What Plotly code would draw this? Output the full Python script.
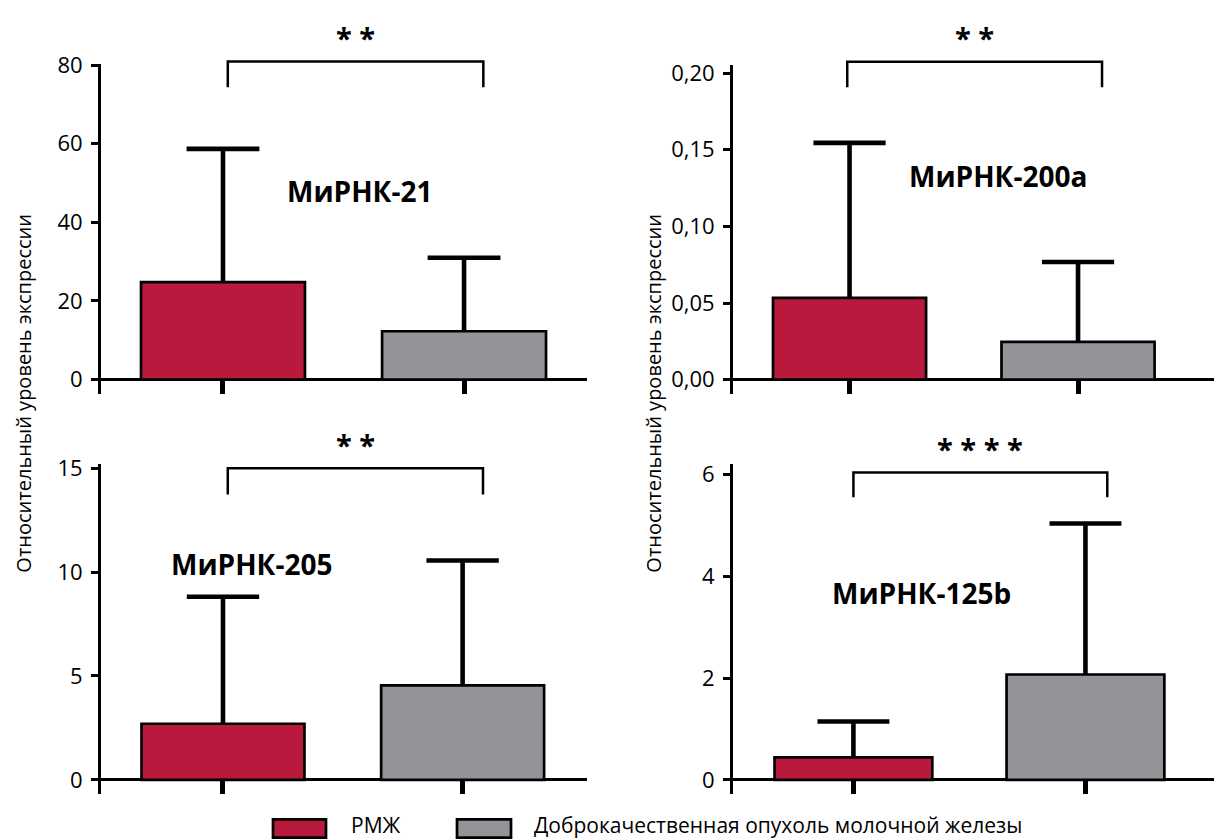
import plotly.graph_objects as go

# ---------------- data ----------------
groups = ["РМЖ", "Доброкачественная опухоль молочной железы"]
mirna_labels = ["МиРНК-21", "МиРНК-200a", "МиРНК-205", "МиРНК-125b"]
rmzh_mean = [24.8, 0.0533, 2.70, 0.44]
rmzh_err = [33.9, 0.1012, 6.11, 0.705]
benign_mean = [12.3, 0.0246, 4.55, 2.07]
benign_err = [18.7, 0.0522, 6.01, 2.965]
significance = ["**", "**", "**", "****"]
ytick_values = [[0, 20, 40, 60, 80], [0, 0.05, 0.10, 0.15, 0.20], [0, 5, 10, 15], [0, 2, 4, 6]]
ytick_labels = [["0", "20", "40", "60", "80"],
                ["0,00", "0,05", "0,10", "0,15", "0,20"],
                ["0", "5", "10", "15"],
                ["0", "2", "4", "6"]]
y_title = "Относительный уровень экспрессии"

# ---------------- layout / style ----------------
W, H = 1214, 839
RED = "#B8193D"
GREY = "#939498"
FONT = "Open Sans"

panels = [
    dict(xpx=(101, 587), ypx=(49.3, 385), xr=(-0.506, 1.510), yr=(-3.57, 80.2), bw=0.68, cap=0.151,
         br_x=(0.02, 1.08), br_y=(80.9, 74.4), lab=(0.568, 48.1)),
    dict(xpx=(733, 1214), ypx=(50, 385), xr=(-0.51, 1.595), yr=(-0.00915, 0.2053), bw=0.67, cap=0.158,
         br_x=(-0.01, 1.105), br_y=(0.2074, 0.1908), lab=(0.65, 0.133)),
    dict(xpx=(101, 587), ypx=(457, 793.3), xr=(-0.509, 1.519), yr=(-0.689, 15.19), bw=0.68, cap=0.151,
         br_x=(0.02, 1.085), br_y=(15.0, 13.73), lab=(0.117, 10.37)),
    dict(xpx=(733, 1214), ypx=(457, 793.3), xr=(-0.519, 1.554), yr=(-0.2817, 6.2), bw=0.68, cap=0.155,
         br_x=(0.0, 1.094), br_y=(6.04, 5.55), lab=(0.295, 3.68)),
]

fig = go.Figure()
layout = dict(width=W, height=H, margin=dict(l=0, r=0, t=0, b=0),
              paper_bgcolor="white", plot_bgcolor="white", showlegend=False,
              barmode="overlay", font=dict(family=FONT, color="black"))
annotations = []
shapes = []


def dom(v, r):
    return (v - r[0]) / (r[1] - r[0])


for i, p in enumerate(panels):
    sfx = "" if i == 0 else str(i + 1)
    xa, ya = "x" + sfx, "y" + sfx
    means = [rmzh_mean[i], benign_mean[i]]
    errs = [rmzh_err[i], benign_err[i]]
    colors = [RED, GREY]
    for g in range(2):
        fig.add_trace(go.Bar(x=[g], y=[means[g]], width=p["bw"], name=groups[g],
                             marker=dict(color=colors[g], line=dict(color="black", width=2.7)),
                             xaxis=xa, yaxis=ya, hoverinfo="skip"))
    # error bars (upper only)
    ex, ey = [], []
    for g in range(2):
        top = means[g] + errs[g]
        ex += [g, g, None, g - p["cap"], g + p["cap"], None]
        ey += [means[g], top, None, top, top, None]
    fig.add_trace(go.Scatter(x=ex, y=ey, mode="lines", line=dict(color="black", width=4.6),
                             xaxis=xa, yaxis=ya, hoverinfo="skip"))

    layout["xaxis" + sfx] = dict(domain=[p["xpx"][0] / W, p["xpx"][1] / W], range=list(p["xr"]),
                                 anchor=ya, showgrid=False, zeroline=False, showline=False,
                                 ticks="inside", tickvals=[0, 1], ticklen=14.3, tickwidth=4.5,
                                 tickcolor="black", showticklabels=False, fixedrange=True)
    layout["yaxis" + sfx] = dict(domain=[1 - p["ypx"][1] / H, 1 - p["ypx"][0] / H], range=list(p["yr"]),
                                 anchor=xa, showgrid=False, showline=True, linewidth=3, linecolor="black",
                                 ticks="outside", ticklen=7, tickwidth=2.7, tickcolor="black",
                                 tickvals=ytick_values[i], ticktext=ytick_labels[i],
                                 tickfont=dict(family=FONT, size=22, color="black"),
                                 ticklabelstandoff=4,
                                 zeroline=True, zerolinecolor="black", zerolinewidth=2.7,
                                 fixedrange=True)

    # significance bracket
    bx0, bx1 = dom(p["br_x"][0], p["xr"]), dom(p["br_x"][1], p["xr"])
    by0, by1 = dom(p["br_y"][0], p["yr"]), dom(p["br_y"][1], p["yr"])
    shapes.append(dict(type="path", xref=xa + " domain", yref=ya + " domain",
                       path=f"M {bx0},{by1} L {bx0},{by0} L {bx1},{by0} L {bx1},{by1}",
                       line=dict(color="black", width=2.5)))
    annotations.append(dict(xref=xa + " domain", yref=ya + " domain", x=(bx0 + bx1) / 2, y=by0,
                            text="<b>" + " ".join(significance[i]) + "</b>", showarrow=False,
                            xanchor="center", yanchor="middle", yshift=24,
                            font=dict(family=FONT, size=29, color="black")))
    # panel label
    annotations.append(dict(xref=xa, yref=ya, x=p["lab"][0], y=p["lab"][1],
                            text="<b>" + mirna_labels[i] + "</b>", showarrow=False,
                            xanchor="center", yanchor="middle",
                            font=dict(family=FONT, size=28, color="black")))

# shared y titles
for xc in (24, 654):
    annotations.append(dict(xref="paper", yref="paper", x=xc / W, y=1 - 385 / H, text=y_title,
                            textangle=-90, showarrow=False, xanchor="center", yanchor="middle",
                            font=dict(family=FONT, size=20, color="black")))

# legend (manual)
leg = [(273, 326, 349, RED, groups[0]), (457, 511, 532, GREY, groups[1])]
for x0, x1, xt, col, txt in leg:
    shapes.append(dict(type="rect", xref="paper", yref="paper", x0=x0 / W, x1=x1 / W,
                       y0=1 - 837.5 / H, y1=1 - 819 / H, fillcolor=col,
                       line=dict(color="black", width=2.7)))
    annotations.append(dict(xref="paper", yref="paper", x=xt / W, y=1 - 824.5 / H, text=txt,
                            showarrow=False, xanchor="left", yanchor="middle",
                            font=dict(family=FONT, size=21, color="black")))

layout["annotations"] = annotations
layout["shapes"] = shapes
fig.update_layout(**layout)
fig.write_html("out.html", config={"displayModeBar": False},
               post_script="document.body.style.margin='0';document.body.style.overflow='hidden';")
